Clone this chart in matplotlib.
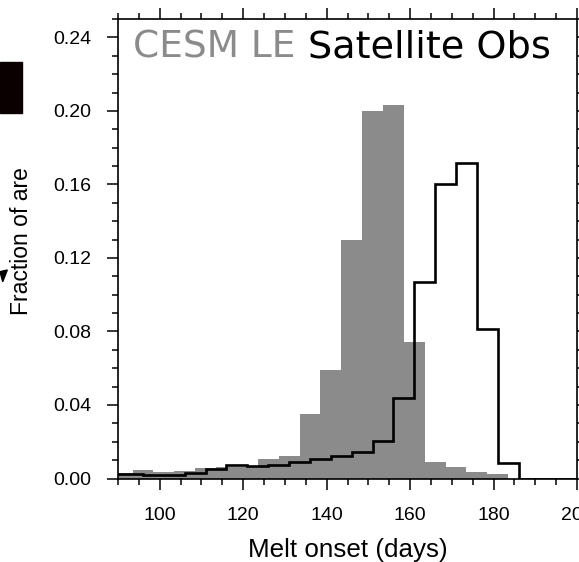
import numpy as np
import matplotlib
matplotlib.use('Agg')
import matplotlib.pyplot as plt
from matplotlib.patches import Rectangle, Polygon
from matplotlib.ticker import MultipleLocator

# CESM LE histogram (gray bars), 5-day bins
cesm_edges = np.arange(88.5, 189, 5)
cesm_frac = [0.003, 0.0045, 0.0036, 0.004, 0.0058, 0.006, 0.0065, 0.0104, 0.0122,
             0.035, 0.059, 0.130, 0.200, 0.203, 0.074, 0.009, 0.0064, 0.0034,
             0.0027, 0.0]

# Satellite obs histogram (black step line)
obs_edges = np.arange(86, 202, 5)
obs_frac = [0.0025, 0.0025, 0.0018, 0.0018, 0.0031, 0.0049, 0.0076, 0.0067, 0.0072,
            0.0089, 0.0106, 0.0125, 0.0146, 0.0205, 0.044, 0.1068, 0.1605, 0.1716,
            0.0814, 0.0086, 0.0, 0.0, 0.0]

xticks = [100, 120, 140, 160, 180, 200]
yticks = [0.00, 0.04, 0.08, 0.12, 0.16, 0.20, 0.24]

plt.rcParams['font.family'] = ['Liberation Sans', 'DejaVu Sans']

fig = plt.figure(figsize=(5.79, 5.62), dpi=100)
ax = fig.add_axes([118 / 579, 1 - 478.5 / 562, 459 / 579, 459.5 / 562])

ax.bar(cesm_edges[:-1], cesm_frac, width=np.diff(cesm_edges), align='edge',
       color='#8b8b8b', linewidth=0, zorder=2)
ax.stairs(obs_frac, obs_edges, color='black', linewidth=1.9, zorder=3)

ax.set_xlim(90, 200)
ax.set_ylim(0, 0.25)
ax.set_xticks(xticks)
ax.set_yticks(yticks)
ax.set_yticklabels(['%.2f' % v for v in yticks])
ax.xaxis.set_minor_locator(MultipleLocator(5))
ax.yaxis.set_minor_locator(MultipleLocator(0.01))
ax.tick_params(which='both', direction='out', top=True, right=True, width=1.1,
               labelsize=14)
ax.tick_params(which='major', length=8)
ax.tick_params(which='minor', length=4.3)
ax.tick_params(axis='y', pad=11.5)
ax.tick_params(axis='x', pad=12.5)
for s in ax.spines.values():
    s.set_linewidth(1.2)

ax.text(0.033, 0.917, 'CESM LE', transform=ax.transAxes, fontsize=27,
        family='DejaVu Sans', color='#8b8b8b', va='baseline')
ax.text(0.414, 0.917, 'Satellite Obs', transform=ax.transAxes, fontsize=27.5,
        family='DejaVu Sans', color='black', va='baseline')

fig.text(347.5 / 579, 1 - 557 / 562, 'Melt onset (days)', fontsize=18.7,
         ha='center', va='baseline')
fig.text(22 / 579, 1 - 241.5 / 562, 'Fraction of are', fontsize=16.5,
         rotation=90, ha='center', va='center')

# pieces of the neighbouring panel at the left edge
fig.add_artist(Rectangle((0, 1 - 113 / 562), 22 / 579, 51 / 562,
                         transform=fig.transFigure, color='#0a0000'))
fig.add_artist(Polygon([(0, 1 - 271.7 / 562), (7.3 / 579, 1 - 270 / 562),
                        (2.7 / 579, 1 - 281.7 / 562)],
                       transform=fig.transFigure, color='black'))

fig.savefig('out.png', dpi=100)
